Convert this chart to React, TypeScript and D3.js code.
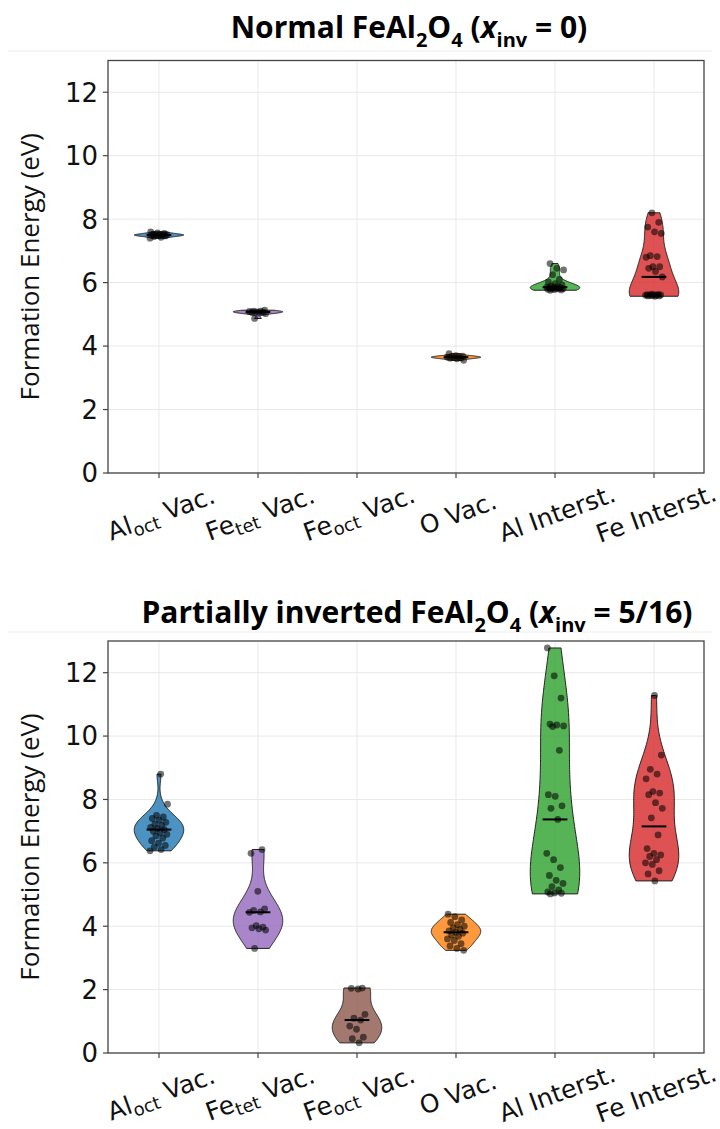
import React from "react";
import * as d3 from "d3";

// category labels: base + subscript + tail
const catBase = ["Al", "Fe", "Fe", "O", "Al", "Fe"];
const catSub = ["oct", "tet", "oct", "", "", ""];
const catTail = [" Vac.", " Vac.", " Vac.", " Vac.", " Interst.", " Interst."];
const colors = ["#1f77b4", "#9467bd", "#8c564b", "#ff7f0e", "#2ca02c", "#d62728"];
const yTicks = [0, 2, 4, 6, 8, 10, 12];

// Normal FeAl2O4 (x_inv = 0)
const normalAlOct = [7.4, 7.43, 7.45, 7.47, 7.48, 7.49, 7.5, 7.5, 7.51, 7.52, 7.53, 7.55, 7.57, 7.6];
const normalFeTet = [4.87, 5.02, 5.05, 5.06, 5.07, 5.08, 5.09, 5.1, 5.1, 5.13];
const normalFeOct: number[] = [];
const normalOVac = [3.55, 3.6, 3.62, 3.63, 3.64, 3.65, 3.66, 3.67, 3.68, 3.7, 3.76];
const normalAlInt = [5.76, 5.77, 5.78, 5.79, 5.8, 5.8, 5.81, 5.82, 5.83, 5.84, 5.85, 5.86, 5.88, 5.9, 5.93, 5.97, 6.02, 6.1, 6.25, 6.4, 6.45, 6.6];
const normalFeInt = [5.57, 5.58, 5.58, 5.59, 5.6, 5.6, 5.6, 5.61, 5.62, 5.62, 5.63, 5.64, 6.18, 6.35, 6.45, 6.5, 6.5, 6.8, 6.82, 6.85, 7.55, 7.6, 7.75, 7.9, 8.2];

// Partially inverted FeAl2O4 (x_inv = 5/16)
const invAlOct = [6.38, 6.42, 6.5, 6.55, 6.62, 6.7, 6.78, 6.85, 6.9, 6.95, 7.0, 7.05, 7.08, 7.12, 7.18, 7.22, 7.28, 7.35, 7.4, 7.45, 7.5, 7.85, 8.8];
const invFeTet = [3.3, 3.88, 3.92, 3.95, 3.97, 4.02, 4.44, 4.45, 4.5, 4.55, 5.1, 6.3, 6.42];
const invFeOct = [0.32, 0.45, 0.5, 0.75, 0.85, 1.04, 1.1, 1.22, 2.02, 2.04, 2.05];
const invOVac = [3.24, 3.3, 3.38, 3.45, 3.55, 3.6, 3.68, 3.72, 3.78, 3.81, 3.85, 3.9, 3.95, 4.0, 4.05, 4.12, 4.2, 4.3, 4.38];
const invAlInt = [5.02, 5.04, 5.05, 5.08, 5.15, 5.25, 5.35, 5.45, 5.6, 5.85, 6.1, 6.3, 7.37, 7.72, 7.8, 8.1, 8.15, 9.55, 10.3, 10.32, 10.35, 10.38, 11.2, 11.9, 12.78];
const invFeInt = [5.43, 5.65, 5.75, 5.95, 6.0, 6.1, 6.2, 6.25, 6.3, 6.45, 6.88, 7.42, 7.72, 7.9, 8.15, 8.2, 8.25, 8.65, 8.8, 8.95, 9.4, 11.28];

const normalSeries = [normalAlOct, normalFeTet, normalFeOct, normalOVac, normalAlInt, normalFeInt];
const invSeries = [invAlOct, invFeTet, invFeOct, invOVac, invAlInt, invFeInt];

const W = 720;
const H = 1129;
const left = 108;
const right = 704;
const tickFont = "'DejaVu Sans'";
const titleFont = "'Open Sans'";

// gaussian kde, scott bandwidth, evaluated between min and max (like matplotlib violinplot)
function violinShape(vals: number[]) {
  const n = vals.length;
  const sd = d3.deviation(vals) || 0.01;
  const bw = sd * Math.pow(n, -0.2);
  const lo = d3.min(vals)!;
  const hi = d3.max(vals)!;
  const pts = d3.range(100).map((i) => {
    const v = lo + ((hi - lo) * i) / 99;
    const dens = d3.sum(vals, (s) => Math.exp(-0.5 * ((v - s) / bw) ** 2));
    return { v, dens };
  });
  const mx = d3.max(pts, (p) => p.dens)!;
  return pts.map((p) => ({ v: p.v, w: (p.dens / mx) * 0.25 }));
}

function Panel({ series, top, bottom, title }: { series: number[][]; top: number; bottom: number; title: React.ReactNode }) {
  const x = d3.scaleLinear().domain([0.485, 6.505]).range([left, right]);
  const y = d3.scaleLinear().domain([0, 13]).range([bottom, top]);
  const midY = (top + bottom) / 2;

  return (
    <g>
      {title}
      {/* grid */}
      {yTicks.map((t) => (
        <line key={"gy" + t} x1={left} x2={right} y1={y(t)} y2={y(t)} stroke="#e8e8e8" strokeWidth={1} />
      ))}
      {catBase.map((_, i) => (
        <line key={"gx" + i} x1={x(i + 1)} x2={x(i + 1)} y1={top} y2={bottom} stroke="#e8e8e8" strokeWidth={1} />
      ))}
      {/* violins */}
      {series.map((vals, i) => {
        if (!vals.length) return null;
        const pos = i + 1;
        const shape = violinShape(vals);
        const area = d3
          .area<{ v: number; w: number }>()
          .y((d) => y(d.v))
          .x0((d) => x(pos - d.w))
          .x1((d) => x(pos + d.w));
        const med = d3.median(vals)!;
        return (
          <g key={"v" + i}>
            <path d={area(shape) || ""} fill={colors[i]} fillOpacity={0.8} stroke="#222" strokeWidth={1} />
            <line x1={x(pos - 0.125)} x2={x(pos + 0.125)} y1={y(med)} y2={y(med)} stroke="#000" strokeWidth={2} />
          </g>
        );
      })}
      {/* strip points */}
      {series.map((vals, i) =>
        vals.map((v, j) => {
          const jit = (((j * 0.618034 + i * 0.31) % 1) - 0.5) * 0.18;
          return <circle key={"p" + i + "-" + j} cx={x(i + 1 + jit)} cy={y(v)} r={3.4} fill="#000" fillOpacity={0.55} />;
        })
      )}
      {/* spines */}
      <rect x={left} y={top} width={right - left} height={bottom - top} fill="none" stroke="#444" strokeWidth={1.3} />
      {/* y axis */}
      {yTicks.map((t) => (
        <g key={"yt" + t}>
          <line x1={left - 5} x2={left} y1={y(t)} y2={y(t)} stroke="#444" strokeWidth={1.2} />
          <text x={left - 10} y={y(t)} dy="0.36em" textAnchor="end" fontFamily={tickFont} fontSize={26} fill="#111">
            {t}
          </text>
        </g>
      ))}
      <text
        transform={`translate(30,${midY}) rotate(-90)`}
        textAnchor="middle"
        dy="0.35em"
        fontFamily={titleFont}
        fontSize={26}
        fill="#111"
      >
        Formation Energy (eV)
      </text>
      {/* x axis */}
      {catBase.map((b, i) => {
        const cx = x(i + 1) + 2;
        const cy = bottom + 40;
        return (
          <g key={"xt" + i}>
            <line x1={x(i + 1)} x2={x(i + 1)} y1={bottom} y2={bottom + 5} stroke="#444" strokeWidth={1.2} />
            <text
              x={cx}
              y={cy + 9}
              textAnchor="middle"
              fontFamily={tickFont}
              fontSize={25}
              fill="#111"
              transform={`rotate(-20, ${cx}, ${cy})`}
            >
              {b}
              {catSub[i] ? (
                <>
                  <tspan fontSize={18} dy={5}>
                    {catSub[i]}
                  </tspan>
                  <tspan dy={-5}>{catTail[i]}</tspan>
                </>
              ) : (
                <tspan>{catTail[i]}</tspan>
              )}
            </text>
          </g>
        );
      })}
    </g>
  );
}

function Title({ lead, value, x, y }: { lead: string; value: string; x: number; y: number }) {
  return (
    <text x={x} y={y} textAnchor="middle" fontFamily={titleFont} fontWeight="bold" fontSize={30} fill="#000">
      {lead}
      <tspan fontSize={20} dy={9}>2</tspan>
      <tspan dy={-9}>O</tspan>
      <tspan fontSize={20} dy={9}>4</tspan>
      <tspan dy={-9}> (</tspan>
      <tspan fontStyle="italic">x</tspan>
      <tspan fontSize={20} dy={9}>inv</tspan>
      <tspan dy={-9}>{" = " + value + ")"}</tspan>
    </text>
  );
}

export default function App() {
  return (
    <svg width={W} height={H} style={{ position: "absolute", left: 0, top: 0, background: "#fff" }}>
      <line x1={8} x2={712} y1={51} y2={51} stroke="#ececec" strokeWidth={1} />
      <line x1={8} x2={712} y1={632} y2={632} stroke="#ececec" strokeWidth={1} />
      <Panel
        series={normalSeries}
        top={60.5}
        bottom={473}
        title={<Title lead="Normal FeAl" value="0" x={409} y={38} />}
      />
      <Panel
        series={invSeries}
        top={641}
        bottom={1053}
        title={<Title lead="Partially inverted FeAl" value="5/16" x={417} y={623} />}
      />
    </svg>
  );
}
